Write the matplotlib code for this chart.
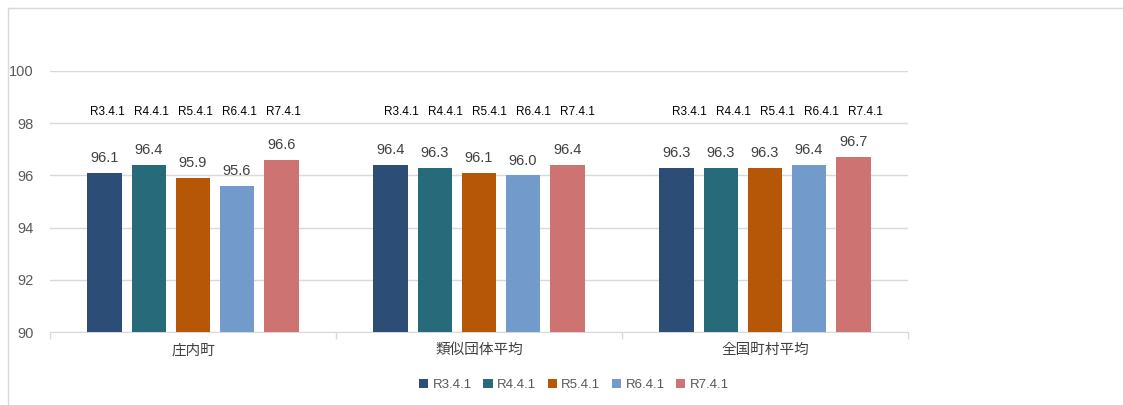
import numpy as np
import matplotlib
matplotlib.use("Agg")
import matplotlib.pyplot as plt
from matplotlib.lines import Line2D

plt.rcParams['font.family'] = ['Noto Sans CJK JP', 'DejaVu Sans']

# data
groups = ["庄内町", "類似団体平均", "全国町村平均"]
periods = ["R3.4.1", "R4.4.1", "R5.4.1", "R6.4.1", "R7.4.1"]
r3 = [96.1, 96.4, 96.3]
r4 = [96.4, 96.3, 96.3]
r5 = [95.9, 96.1, 96.3]
r6 = [95.6, 96.0, 96.4]
r7 = [96.6, 96.4, 96.7]
series = [r3, r4, r5, r6, r7]
colors = ["#2C4D75", "#276A7A", "#B65708", "#729ACA", "#CD7371"]

# layout
step = 0.154
width = 0.122
label_shift = [0.009, 0.035, 0.044]   # date labels sit a bit right of bars
date_label_y = 98.2
num_font = ["Liberation Sans"]

fig = plt.figure(figsize=(11.23, 4.05), dpi=100)
ax = fig.add_axes([50 / 1123, 73 / 405, 858 / 1123, 261 / 405])

x = np.arange(len(groups))
for i, (vals, c) in enumerate(zip(series, colors)):
    pos = x + (i - 2) * step
    ax.bar(pos, vals, width, bottom=0, color=c, label=periods[i], zorder=3)
    for g, (p, v) in enumerate(zip(pos, vals)):
        ax.text(p, v + 0.3, f"{v:.1f}", ha="center", va="bottom",
                fontsize=10.5, color="#404040", family=num_font)
        ax.text(p + label_shift[g], date_label_y, periods[i], ha="center",
                va="bottom", fontsize=8.5, color="#000000", family=num_font)

ax.set_xlim(-0.5, 2.5)
ax.set_ylim(90, 100)
ax.set_yticks(np.arange(90, 101, 2))
ax.yaxis.grid(True, color="#D9D9D9", linewidth=1, zorder=0)
ax.tick_params(axis="y", length=0, labelsize=10.5, labelcolor="#595959", pad=12)
for lab in ax.get_yticklabels():
    lab.set_family(num_font)

ax.set_xticks([0.5 * k - 0.5 for k in range(0, 7, 2)], minor=True)
ax.set_xticks(x)
ax.set_xticklabels(groups, fontsize=10.5, color="#404040")
ax.tick_params(axis="x", which="major", length=0, pad=8)
ax.tick_params(axis="x", which="minor", length=5, color="#D9D9D9", width=1)
for s in ["top", "right", "left"]:
    ax.spines[s].set_visible(False)
ax.spines["bottom"].set_color("#D9D9D9")

leg = fig.legend(loc="center", bbox_to_anchor=(574 / 1123, 1 - 385 / 405),
                 ncol=5, frameon=False, handlelength=0.7,
                 handleheight=0.7, handletextpad=0.35, columnspacing=0.85,
                 prop={"family": num_font, "size": 9.5})
for t in leg.get_texts():
    t.set_color("#595959")

# chart area border (left and top edges)
bx = 7.5 / 1123
by = 1 - 7.5 / 405
fig.lines.append(Line2D([bx, bx], [0, by], transform=fig.transFigure,
                        color="#D9D9D9", linewidth=1))
fig.lines.append(Line2D([bx, 1], [by, by], transform=fig.transFigure,
                        color="#D9D9D9", linewidth=1))

fig.savefig("out.png", dpi=100)
